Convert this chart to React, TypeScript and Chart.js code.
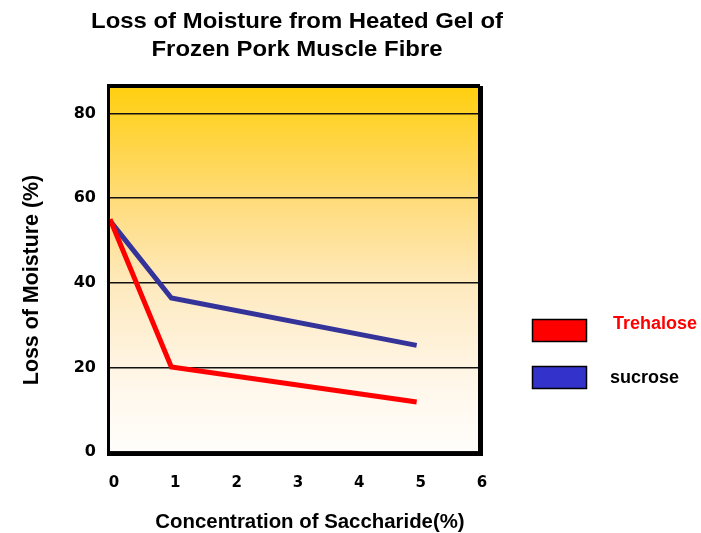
import React, { useEffect, useRef } from 'react';
import { Chart, registerables } from 'chart.js';

Chart.register(...registerables);

// ---- data ----
const xValues = [0, 1, 5];
const trehalose = [55, 20.1, 11.8];
const sucrose = [54.6, 36.4, 25.2];
const seriesNames = ['Trehalose', 'sucrose'];
const lineColors = ['#FF0000', '#333399'];
const legendSwatchColors = ['#FF0000', '#3333CC'];
const legendTextColors = ['#FF0000', '#000000'];
const yTickValues = [0, 20, 40, 60, 80];
const titleLines = ['Loss of Moisture from Heated Gel of', 'Frozen Pork Muscle Fibre'];
const xTitle = 'Concentration of Saccharide(%)';
const yTitle = 'Loss of Moisture (%)';

const ARIAL = '"Liberation Sans", Arial, sans-serif';
const VERDANA = '"DejaVu Sans", Verdana, sans-serif';

function drawText(
  ctx: CanvasRenderingContext2D,
  text: string,
  x: number,
  y: number,
  font: string,
  color: string,
  align: CanvasTextAlign,
  stretch = 1,
  rotate = 0
) {
  ctx.save();
  ctx.translate(x, y);
  if (rotate) ctx.rotate(rotate);
  ctx.scale(stretch, 1);
  ctx.font = font;
  ctx.fillStyle = color;
  ctx.textAlign = align;
  ctx.textBaseline = 'alphabetic';
  ctx.fillText(text, 0, 0);
  ctx.restore();
}

const decorPlugin = {
  id: 'decor',
  beforeDraw(chart: any) {
    const { ctx, chartArea: a } = chart;
    ctx.save();
    ctx.fillStyle = '#FFFFFF';
    ctx.fillRect(0, 0, chart.width, chart.height);
    const g = ctx.createLinearGradient(0, a.top, 0, a.bottom);
    g.addColorStop(0, '#FFCF10');
    g.addColorStop(0.3, '#FFDB78');
    g.addColorStop(0.55, '#FEEAC0');
    g.addColorStop(0.8, '#FFF6E8');
    g.addColorStop(1, '#FFFEFC');
    ctx.fillStyle = g;
    ctx.fillRect(a.left, a.top, a.right - a.left, a.bottom - a.top);
    ctx.restore();
  },
  afterDraw(chart: any) {
    const { ctx, chartArea: a } = chart;
    ctx.save();
    ctx.fillStyle = '#000000';
    // frame with slight drop shadow on right/bottom
    ctx.fillRect(a.left - 3, a.top - 4, a.right - a.left + 5, 4); // top
    ctx.fillRect(a.left - 3, a.top - 4, 3, a.bottom - a.top + 8); // left
    ctx.fillRect(a.right, a.top - 2, 5, a.bottom - a.top + 6); // right
    ctx.fillRect(a.left - 3, a.bottom, a.right - a.left + 8, 4); // bottom
    ctx.restore();

    // titles
    drawText(ctx, titleLines[0], 297, 28, `bold 22px ${ARIAL}`, '#000', 'center', 1.087);
    drawText(ctx, titleLines[1], 297, 56, `bold 22px ${ARIAL}`, '#000', 'center', 1.087);
    drawText(ctx, xTitle, 310, 528, `bold 20.4px ${ARIAL}`, '#000', 'center');
    drawText(ctx, yTitle, 37.5, 280, `bold 21.4px ${ARIAL}`, '#000', 'center', 1, -Math.PI / 2);

    // legend
    const swatchY = [319, 366];
    const textY = [328.5, 382.5];
    const textX = [613, 610];
    seriesNames.forEach((name, i) => {
      ctx.save();
      ctx.fillStyle = legendSwatchColors[i];
      ctx.fillRect(533, swatchY[i], 54, 22);
      ctx.strokeStyle = '#000';
      ctx.lineWidth = 1.5;
      ctx.strokeRect(532.5, swatchY[i] + 0.5, 54, 22);
      ctx.restore();
      drawText(ctx, name, textX[i], textY[i], `bold 18px ${ARIAL}`, legendTextColors[i], 'left');
    });
  },
};

export default function App() {
  const ref = useRef<HTMLCanvasElement | null>(null);

  useEffect(() => {
    const canvas = ref.current;
    if (!canvas) return;
    const chart = new Chart(canvas, {
      type: 'line',
      data: {
        datasets: [
          {
            label: seriesNames[0],
            data: xValues.map((x, i) => ({ x, y: trehalose[i] })),
            borderColor: lineColors[0],
            backgroundColor: lineColors[0],
            borderWidth: 5,
            pointRadius: 0,
            tension: 0,
            borderJoinStyle: 'miter',
            borderCapStyle: 'butt',
          },
          {
            label: seriesNames[1],
            data: xValues.map((x, i) => ({ x, y: sucrose[i] })),
            borderColor: lineColors[1],
            backgroundColor: lineColors[1],
            borderWidth: 5,
            pointRadius: 0,
            tension: 0,
            borderJoinStyle: 'miter',
            borderCapStyle: 'butt',
          },
        ],
      },
      options: {
        animation: false,
        responsive: true,
        maintainAspectRatio: false,
        devicePixelRatio: 1,
        layout: { padding: { left: 0, top: 88, right: 223, bottom: 0 } },
        plugins: {
          legend: { display: false },
          title: { display: false },
          tooltip: { enabled: false },
        },
        scales: {
          x: {
            type: 'linear',
            min: 0,
            max: 6,
            ticks: {
              stepSize: 1,
              color: '#000',
              font: { family: VERDANA, size: 15, weight: 'bold' },
              padding: 22,
              labelOffset: 4,
              maxRotation: 0,
            },
            grid: { display: false, drawTicks: false },
            border: { display: false },
            afterFit: (s: any) => {
              s.height = 81;
            },
          },
          y: {
            type: 'linear',
            min: 0,
            max: 86,
            afterBuildTicks: (axis: any) => {
              axis.ticks = yTickValues.map((v) => ({ value: v }));
            },
            ticks: {
              color: '#000',
              font: { family: VERDANA, size: 16, weight: 'bold' },
              padding: 14,
            },
            grid: {
              color: '#111',
              lineWidth: 1.5,
              drawTicks: false,
            },
            border: { display: false },
            afterFit: (s: any) => {
              s.width = 110;
            },
          },
        },
      },
      plugins: [decorPlugin],
    });
    return () => chart.destroy();
  }, []);

  return (
    <div style={{ position: 'fixed', left: 0, top: 0, width: 701, height: 533, background: '#fff' }}>
      <canvas ref={ref} />
    </div>
  );
}
